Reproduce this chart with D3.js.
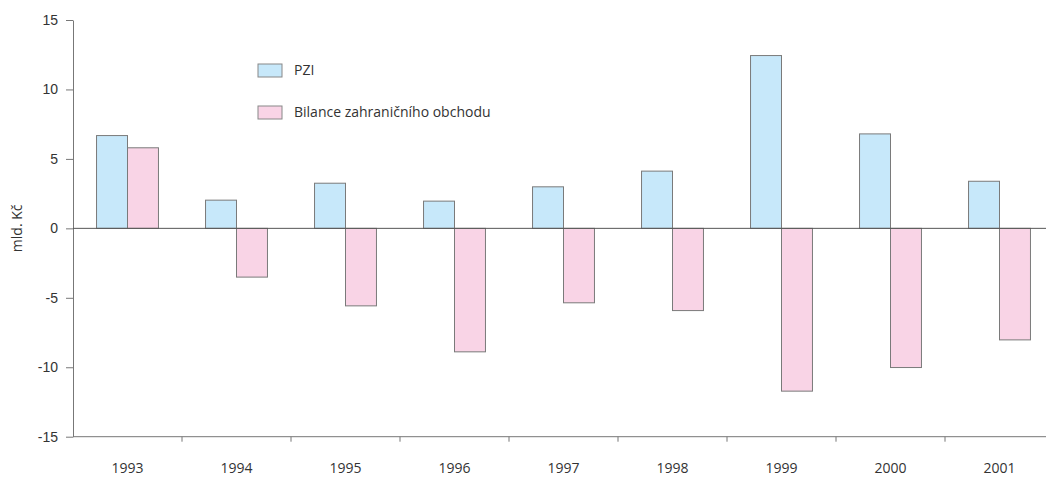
<!DOCTYPE html>
<html>
<head>
<meta charset="utf-8">
<script src="https://cdn.jsdelivr.net/npm/d3@7/dist/d3.min.js"></script>
<style>
  body { margin: 0; background: #fff; }
  svg { display: block; font-family: "Open Sans", sans-serif; }
  .axis text { font-size: 14px; fill: #333; }
  .axis path, .axis line { stroke: #777; }
</style>
</head>
<body>
<div id="chart"></div>
<script>
const years = [`1993`, `1994`, `1995`, `1996`, `1997`, `1998`, `1999`, `2000`, `2001`];
const pzi = [6.68, 2.03, 3.25, 1.96, 2.99, 4.12, 12.44, 6.80, 3.39];
const bilance = [5.80, -3.51, -5.58, -8.89, -5.36, -5.92, -11.72, -10.02, -8.03];
const seriesNames = [`PZI`, `Bilance zahraničního obchodu`];
const yTicks = [-15, -10, -5, 0, 5, 10, 15];

const width = 1046;
const height = 477;
const margin = { top: 20, left: 73 };
const plotBottom = 436.7;
const plotRight = 1054;
const colors = [`#c7e8fa`, `#f9d4e6`];

const svg = d3.select(`#chart`).append(`svg`)
    .attr(`width`, width)
    .attr(`height`, height);

const x = d3.scaleBand()
  .domain(years)
  .range([margin.left, plotRight])
  .paddingInner(0)
  .paddingOuter(0);

const xSub = d3.scaleBand()
  .domain(seriesNames)
  .range([0, x.bandwidth()])
  .paddingOuter(0.76)
  .paddingInner(0);

const y = d3.scaleLinear()
  .domain([-15, 15])
  .range([plotBottom, margin.top]);

// y axis, plain hyphen for negatives
svg.append(`g`)
    .attr(`class`, `axis`)
    .attr(`transform`, `translate(${margin.left},0)`)
    .call(d3.axisLeft(y).tickValues(yTicks).tickFormat((d) => String(d))
      .tickSize(7).tickSizeOuter(0).tickPadding(8));

// x axis at bottom, ticks between categories
const xAxis = svg.append(`g`)
    .attr(`class`, `axis`)
    .attr(`transform`, `translate(0,${plotBottom})`);

xAxis.append(`line`)
    .attr(`x1`, margin.left).attr(`x2`, width)
    .attr(`y1`, 0).attr(`y2`, 0);

xAxis.selectAll(`.sep`)
  .data(years.slice(1))
  .enter().append(`line`)
    .attr(`class`, `sep`)
    .attr(`x1`, (d) => x(d)).attr(`x2`, (d) => x(d))
    .attr(`y1`, 0).attr(`y2`, 5);

xAxis.selectAll(`text`)
  .data(years)
  .enter().append(`text`)
    .attr(`x`, (d) => x(d) + x.bandwidth() / 2)
    .attr(`y`, 36)
    .attr(`text-anchor`, `middle`)
    .text((d) => d);

// bars
const groups = svg.append(`g`).selectAll(`g`)
  .data(years)
  .enter().append(`g`)
    .attr(`transform`, (d) => `translate(${x(d)},0)`);

groups.selectAll(`rect`)
  .data((d, i) => [pzi[i], bilance[i]].map((v, j) => ({ v, name: seriesNames[j], j })))
  .enter().append(`rect`)
    .attr(`x`, (d) => xSub(d.name))
    .attr(`width`, xSub.bandwidth())
    .attr(`y`, (d) => y(Math.max(0, d.v)))
    .attr(`height`, (d) => Math.abs(y(d.v) - y(0)))
    .attr(`fill`, (d) => colors[d.j])
    .attr(`stroke`, `#7a7a7a`)
    .attr(`stroke-width`, 1);

// zero line
svg.append(`line`)
    .attr(`x1`, margin.left).attr(`x2`, width)
    .attr(`y1`, y(0)).attr(`y2`, y(0))
    .attr(`stroke`, `#555`);

// y label
svg.append(`text`)
    .attr(`transform`, `translate(22,${y(0)}) rotate(-90)`)
    .attr(`text-anchor`, `middle`)
    .style(`font-size`, `14px`)
    .style(`fill`, `#333`)
    .text(`mld. Kč`);

// legend
const legend = svg.append(`g`).selectAll(`g`)
  .data(seriesNames)
  .enter().append(`g`)
    .attr(`transform`, (d, i) => `translate(258,${64 + i * 42})`);

legend.append(`rect`)
    .attr(`width`, 24).attr(`height`, 13)
    .attr(`fill`, (d, i) => colors[i])
    .attr(`stroke`, `#888`);

legend.append(`text`)
    .attr(`x`, 36).attr(`y`, 11)
    .style(`font-size`, `14px`)
    .style(`fill`, `#333`)
    .text((d) => d);
</script>
</body>
</html>
